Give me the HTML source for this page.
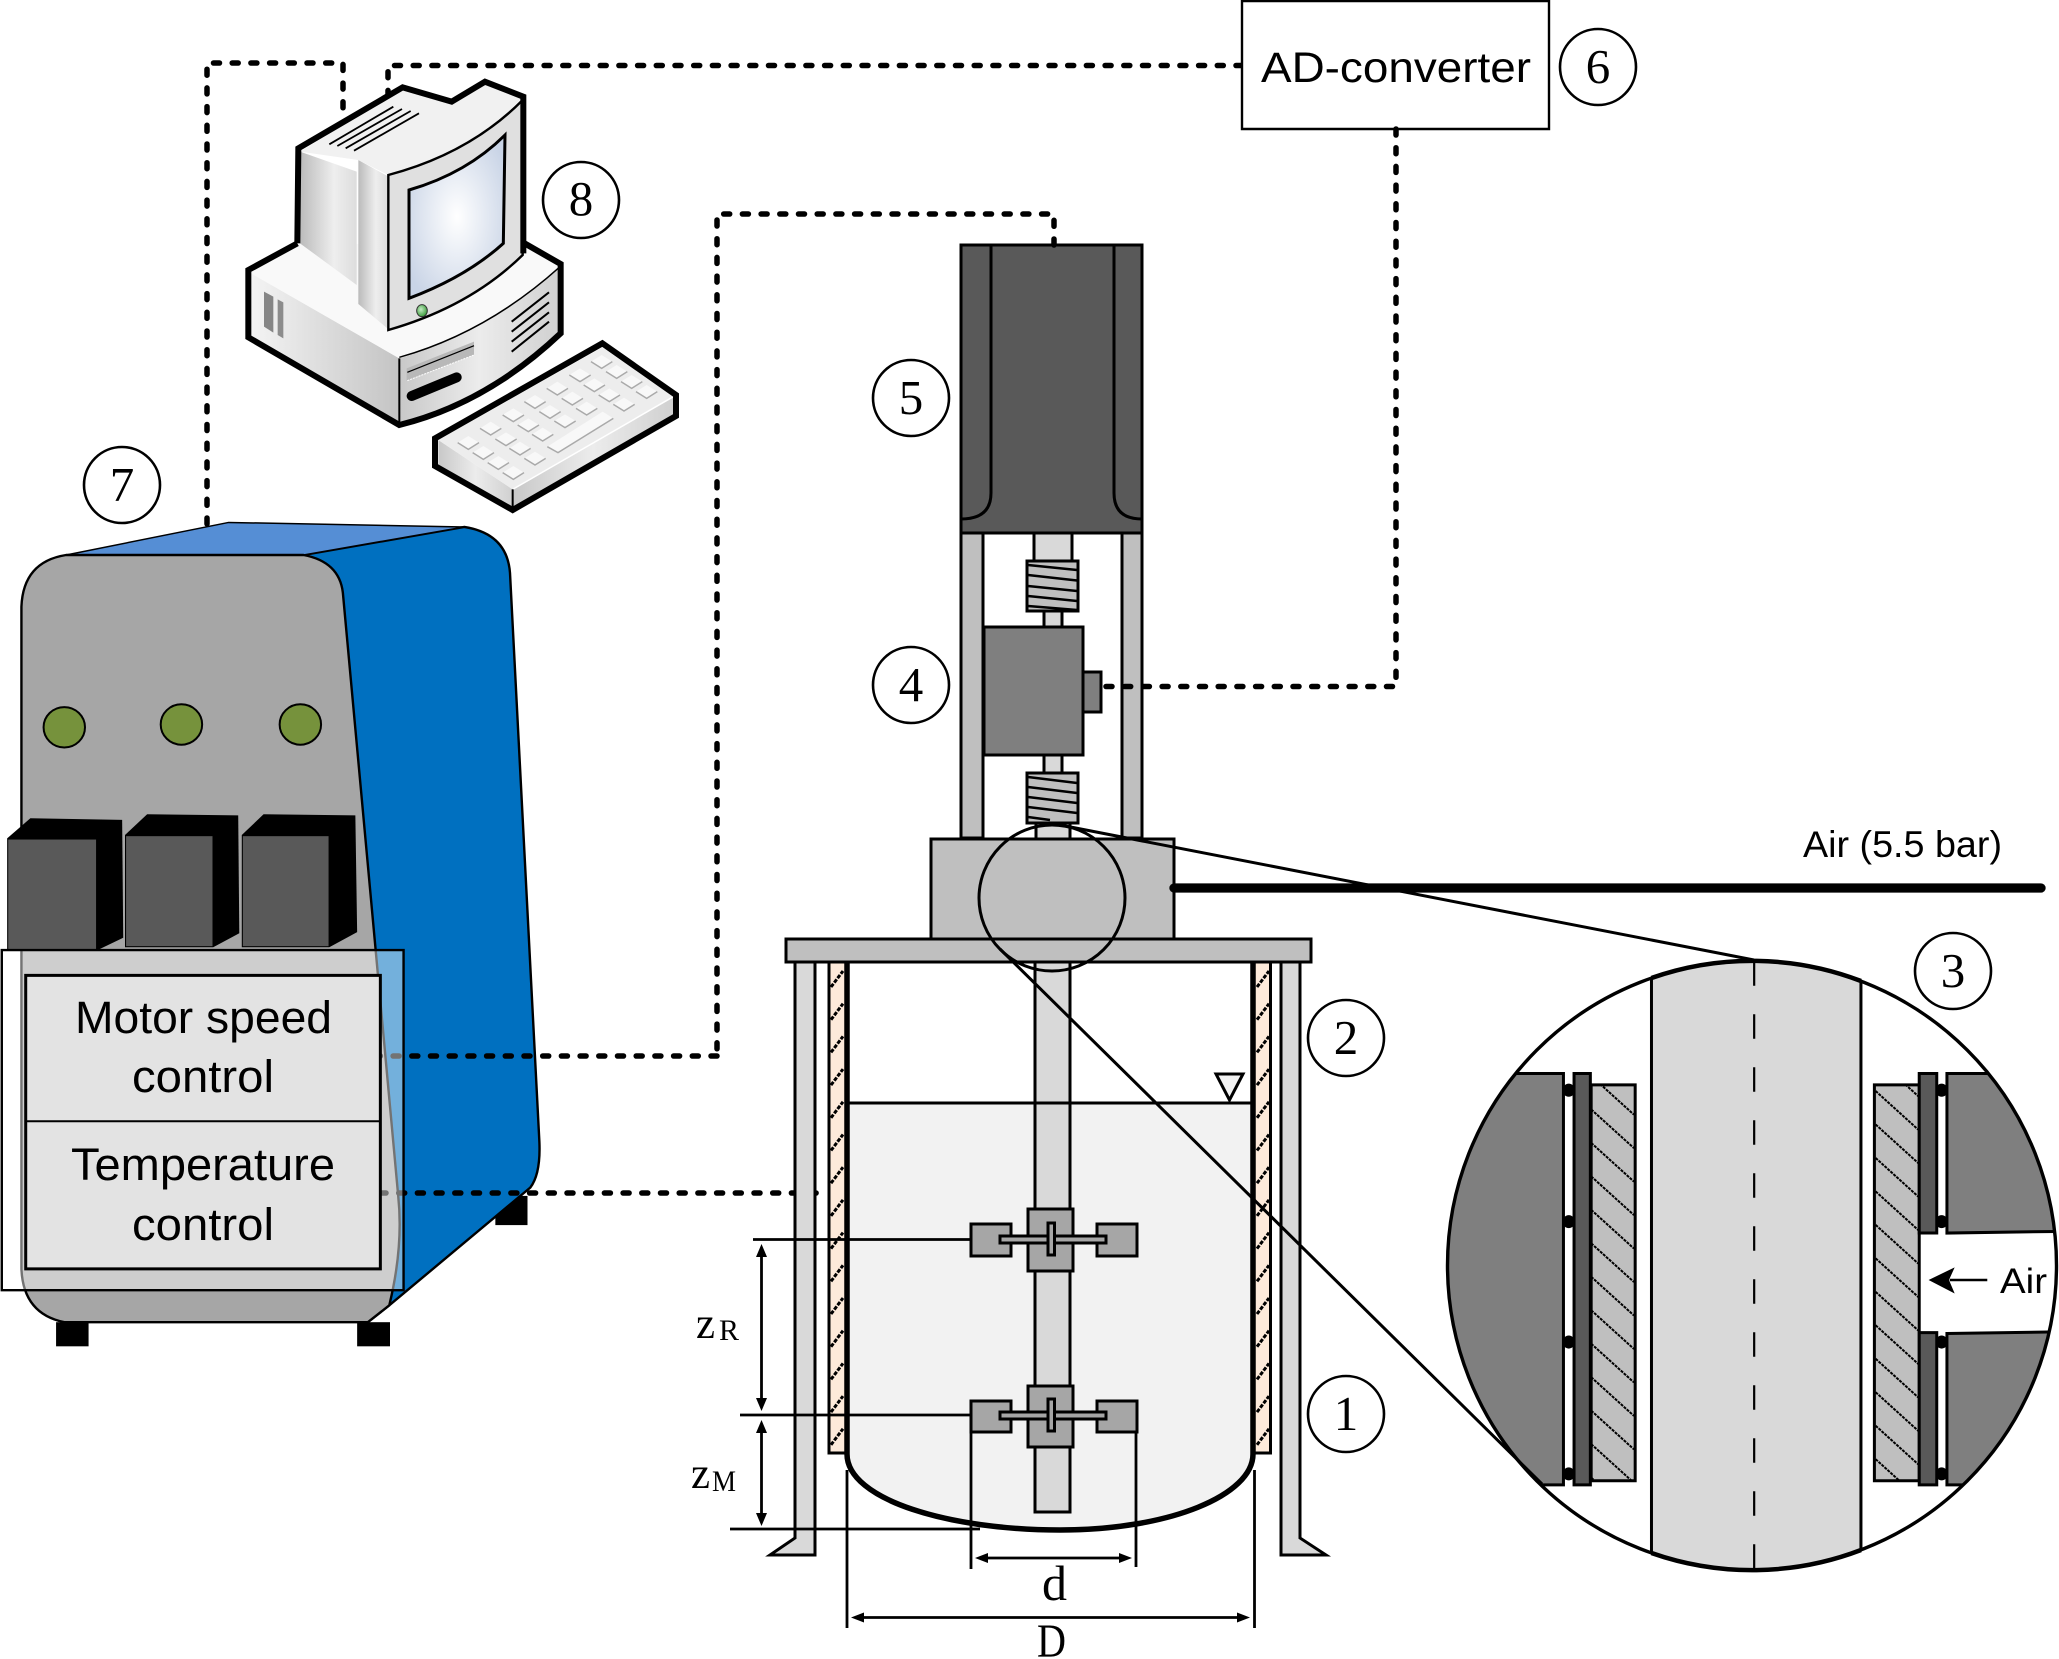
<!DOCTYPE html>
<html lang="en">
<head>
<meta charset="utf-8">
<title>Stirred tank setup</title>
<style>
html,body{margin:0;padding:0;background:#fff;width:2059px;height:1659px;overflow:hidden}
svg{display:block}
svg *{vector-effect:non-scaling-stroke}
.n{font-family:"Liberation Serif",serif;font-size:49px;text-anchor:middle;fill:#000}
.s{font-family:"Liberation Sans",sans-serif;fill:#000}
.m{font-family:"Liberation Serif",serif;fill:#000}
.dot{fill:none;stroke:#000;stroke-width:5.5;stroke-dasharray:6 12.7;stroke-linecap:round;stroke-linejoin:round}
.c{fill:#fff;stroke:#000;stroke-width:2.6}
.k{stroke:#000;stroke-width:3}
</style>
</head>
<body>
<svg xmlns="http://www.w3.org/2000/svg" width="2059" height="1659" viewBox="0 0 2059 1659">
<defs>
  <linearGradient id="gL" x1="0" y1="0" x2="1" y2="0"><stop offset="0" stop-color="#f4f4f4"/><stop offset="1" stop-color="#c4c4c4"/></linearGradient>
  <linearGradient id="gF" x1="0" y1="0" x2="1" y2="0"><stop offset="0" stop-color="#c8c8c8"/><stop offset=".5" stop-color="#ececec"/><stop offset="1" stop-color="#d0d0d0"/></linearGradient>
  <linearGradient id="gS" x1="0" y1="0" x2="1" y2="0"><stop offset="0" stop-color="#bbb"/><stop offset=".6" stop-color="#eee"/><stop offset="1" stop-color="#ddd"/></linearGradient>
  <linearGradient id="gB" x1="0" y1="0" x2="1" y2="1"><stop offset="0" stop-color="#e8e8e8"/><stop offset="1" stop-color="#cfcfcf"/></linearGradient>
  <radialGradient id="gSc" cx=".5" cy=".5" r=".6"><stop offset="0" stop-color="#fff"/><stop offset="1" stop-color="#c9d4e6"/></radialGradient>
  <radialGradient id="gLed" cx=".4" cy=".4" r=".6"><stop offset="0" stop-color="#c3eac3"/><stop offset="1" stop-color="#3f9f3f"/></radialGradient>
  <polygon id="key" points="-32,0 0,-20 32,0 0,20" fill="#f8f8f8"/>
  <clipPath id="cBig"><circle cx="815" cy="798" r="746"/></clipPath>
  <clipPath id="cHL"><rect x="420" y="355" width="108" height="970"/></clipPath>
  <clipPath id="cHR"><rect x="1115" y="355" width="110" height="970"/></clipPath>
</defs>

<!-- Machine -->
<g transform="translate(0,500) scale(.35714,.56122)">
  <rect x="1387" y="1240" width="90" height="52" fill="#000"/>
  <rect x="157" y="1465" width="91" height="43" fill="#000"/>
  <rect x="1000" y="1465" width="92" height="43" fill="#000"/>
  <path d="M850,98 L1300,48 Q1420,60 1428,130 L1510,1140 Q1515,1200 1485,1225 L1090,1435 L1030,1465 Z" fill="#0070c0" stroke="#000" stroke-width="2.4"/>
  <polygon points="185,98 640,40 1300,48 850,98" fill="#558ed5" stroke="#000" stroke-width="1.5"/>
  <path d="M185,98 L850,98 Q950,110 960,165 L1115,1240 Q1130,1330 1090,1435 L1030,1465 L180,1465 Q65,1450 60,1370 L60,190 Q65,110 185,98 Z" fill="#a6a6a6" stroke="#000" stroke-width="2.4"/>
  <ellipse cx="180" cy="405" rx="58" ry="36" fill="#76923c" stroke="#000" stroke-width="2"/>
  <ellipse cx="508" cy="400" rx="58" ry="36" fill="#76923c" stroke="#000" stroke-width="2"/>
  <ellipse cx="841" cy="400" rx="58" ry="36" fill="#76923c" stroke="#000" stroke-width="2"/>
  <polygon points="20,603 85,567 342,570 345,780 270,803 20,803" fill="#000"/>
  <rect x="23" y="605" width="246" height="196" fill="#595959"/>
  <polygon points="350,597 412,560 667,562 670,772 597,797 350,797" fill="#000"/>
  <rect x="353" y="599" width="242" height="196" fill="#595959"/>
  <polygon points="677,597 738,560 995,562 1000,770 922,797 677,797" fill="#000"/>
  <rect x="680" y="599" width="240" height="196" fill="#595959"/>
</g>

<!-- Dotted connectors under the machine overlay and computer -->
<path class="dot" d="M207,524 V63 H343 V118"/>
<path class="dot" d="M1242,65.500 H388 V95"/>
<path class="dot" d="M717,1056 H380"/>
<path class="dot" d="M380,1193 H822"/>

<!-- Translucent overlay + control panel -->
<g transform="translate(0,500) scale(.35714,.56122)">
  <rect x="5" y="802" width="1125" height="606" fill="#fff" fill-opacity=".45" stroke="#000" stroke-width="2.4"/>
  <rect x="72" y="847" width="993" height="523" fill="#e3e3e3" stroke="#000" stroke-width="3"/>
  <line x1="72" y1="1107" x2="1065" y2="1107" stroke="#000" stroke-width="2"/>
</g>
<text class="s" x="75" y="1033" font-size="45" textLength="257" lengthAdjust="spacingAndGlyphs">Motor speed</text>
<text class="s" x="132" y="1092" font-size="45" textLength="142" lengthAdjust="spacingAndGlyphs">control</text>
<text class="s" x="71" y="1180" font-size="45" textLength="264" lengthAdjust="spacingAndGlyphs">Temperature</text>
<text class="s" x="132" y="1240" font-size="45" textLength="142" lengthAdjust="spacingAndGlyphs">control</text>

<!-- Computer -->
<g transform="translate(220,50) scale(.33333)" stroke-linejoin="miter">
  <polygon points="85,660 235,575 910,580 1022,642 1022,850 800,1040 538,1125 85,862" fill="#fff"/>
  <polygon points="90,668 538,925 538,1122 90,860" fill="url(#gL)"/>
  <path d="M538,925 Q800,850 1018,655 L1018,850 Q800,1060 538,1122 Z" fill="url(#gF)"/>
  <path d="M90,668 L238,582 L905,582 L1018,650 Q800,850 538,925 Z" fill="#f9f9f9"/>
  <polyline points="538,925 538,1125" stroke="#000" stroke-width="2" fill="none"/>
  <path d="M538,922 Q800,848 1018,652" stroke="#000" stroke-width="1.500" fill="none"/>
  <path d="M232,580 L85,660 L85,862 L538,1125 Q800,1060 1022,850 L1022,642 L910,578" fill="none" stroke="#000" stroke-width="6"/>
  <!-- monitor -->
  <polygon points="240,305 410,365 410,705 240,580" fill="url(#gS)"/>
  <polygon points="415,330 502,378 502,835 415,762" fill="url(#gS)"/>
  <path d="M240,305 L548,118 L695,160 L795,100 L905,145 Q750,310 505,375 L415,330 Z" fill="#f1f1f1"/>
  <path d="M505,375 Q750,310 908,150 L908,615 Q750,770 505,840 Z" fill="#e0e0e0" stroke="#000" stroke-width="2.4"/>
  <path d="M567,420 Q740,370 855,255 L850,580 Q740,680 567,745 Z" fill="url(#gSc)" stroke="#000" stroke-width="3"/>
  <ellipse cx="606" cy="782" rx="16" ry="18" fill="url(#gLed)" stroke="#333" stroke-width="1"/>
  <path d="M232,580 L235,295 L548,112 L695,155 L795,95 L910,140 L910,610" fill="none" stroke="#000" stroke-width="6"/>
  <path d="M328,283L520,170M352,288L546,177M377,295L572,183M402,302L597,190" stroke="#000" stroke-width="1.800" fill="none"/>
  <polygon points="132,725 160,740 160,848 132,830" fill="#858585"/>
  <polygon points="173,748 190,757 190,865 173,855" fill="#8c8c8c"/>
  <path d="M875,815L987,727M875,845L987,757M875,875L987,787M875,905L987,815" stroke="#000" stroke-width="2" fill="none"/>
  <polygon points="560,955 762,875 762,915 560,992" fill="#b8b8b8"/>
  <line x1="562" y1="967" x2="762" y2="887" stroke="#000" stroke-width="1.200"/>
  <line x1="562" y1="992" x2="762" y2="915" stroke="#fff" stroke-width="1" stroke-dasharray="2 1"/>
  <line x1="575" y1="1038" x2="710" y2="982" stroke="#000" stroke-width="10" stroke-linecap="round"/>
  <!-- keyboard -->
  <polygon points="655,1170 878,1318 878,1375 655,1245" fill="url(#gF)"/>
  <polygon points="878,1318 1360,1040 1360,1095 878,1372" fill="url(#gF)"/>
  <polygon points="655,1170 1147,892 1360,1040 878,1318" fill="#ededed"/>
  <line x1="878" y1="1318" x2="878" y2="1378" stroke="#000" stroke-width="2"/>
  <line x1="880" y1="1317" x2="1360" y2="1040" stroke="#fff" stroke-width="1.500"/>
  <polygon points="645,1165 1147,880 1368,1035 1368,1098 878,1380 645,1248" fill="none" stroke="#000" stroke-width="6"/>
  <g>
    <use href="#key" x="745" y="1178"/><use href="#key" x="812" y="1135"/><use href="#key" x="880" y="1095"/><use href="#key" x="945" y="1055"/><use href="#key" x="1012" y="1015"/><use href="#key" x="1080" y="975"/><use href="#key" x="1145" y="935"/>
    <use href="#key" x="790" y="1208"/><use href="#key" x="858" y="1167"/><use href="#key" x="925" y="1125"/><use href="#key" x="990" y="1085"/><use href="#key" x="1057" y="1045"/><use href="#key" x="1123" y="1005"/><use href="#key" x="1190" y="965"/>
    <use href="#key" x="835" y="1238"/><use href="#key" x="900" y="1195"/><use href="#key" x="968" y="1153"/><use href="#key" x="1035" y="1113"/><use href="#key" x="1100" y="1075"/><use href="#key" x="1168" y="1035"/><use href="#key" x="1235" y="995"/>
    <use href="#key" x="880" y="1268"/><use href="#key" x="945" y="1225"/><use href="#key" x="1212" y="1063"/><use href="#key" x="1280" y="1025"/>
    <polygon points="982,1190 1148,1085 1180,1105 1014,1208" fill="#f8f8f8"/>
  </g>
  <path d="M713,1178l32,20l32,-20M758,1208l32,20l32,-20M803,1238l32,20l32,-20M848,1268l32,20l32,-20M913,1225l32,20l32,-20M780,1135l32,20l32,-20M826,1167l32,20l32,-20M868,1195l32,20l32,-20M848,1095l32,20l32,-20M893,1125l32,20l32,-20M936,1153l32,20l32,-20M913,1055l32,20l32,-20M958,1085l32,20l32,-20M1003,1113l32,20l32,-20M980,1015l32,20l32,-20M1025,1045l32,20l32,-20M1068,1075l32,20l32,-20M1048,975l32,20l32,-20M1091,1005l32,20l32,-20M1136,1035l32,20l32,-20M1180,1063l32,20l32,-20M1113,935l32,20l32,-20M1158,965l32,20l32,-20M1203,995l32,20l32,-20M1248,1025l32,20l32,-20M982,1190l32,18l166,-103" fill="none" stroke="#aaa" stroke-width="1.500"/>
</g>

<!-- AD converter -->
<rect x="1242" y="1" width="307" height="128" fill="#fff" stroke="#000" stroke-width="2.400"/>
<text class="s" x="1261" y="82" font-size="43" textLength="270" lengthAdjust="spacingAndGlyphs">AD-converter</text>

<!-- Motor -->
<rect x="961" y="245" width="181" height="288" fill="#595959" class="k"/>
<path d="M991,245 V493 Q991,519 961,519 M1114,245 V493 Q1114,519 1142,519" fill="none" class="k"/>

<!-- Frame and drive train -->
<rect x="961" y="533" width="22" height="305" fill="#bfbfbf" class="k"/>
<rect x="1122" y="533" width="20" height="305" fill="#bfbfbf" class="k"/>
<rect x="1034" y="533" width="38" height="28" fill="#d9d9d9" class="k"/>
<rect x="1027" y="561" width="51" height="50" fill="#bfbfbf" class="k"/>
<path d="M1028,565 L1077,570 M1028,575 L1077,580.500 M1028,586 L1077,591 M1028,596 L1077,601 M1028,606 L1077,610" stroke="#000" stroke-width="2.500" fill="none"/>
<rect x="1044" y="611" width="18" height="16" fill="#d9d9d9" class="k"/>
<rect x="1044" y="755" width="18" height="18" fill="#d9d9d9" class="k"/>
<rect x="984" y="627" width="99" height="128" fill="#7f7f7f" class="k"/>
<rect x="1083" y="672" width="18" height="40" fill="#7f7f7f" class="k"/>
<rect x="1027" y="773" width="51" height="50" fill="#bfbfbf" class="k"/>
<path d="M1028,777 L1077,783 M1028,787 L1077,793 M1028,797 L1077,803 M1028,807 L1077,813 M1028,817 L1050,820" stroke="#000" stroke-width="2.500" fill="none"/>
<rect x="1036" y="823" width="34" height="16" fill="#d9d9d9" class="k"/>
<rect x="931" y="839" width="243" height="100" fill="#bfbfbf" class="k"/>

<!-- Dotted connectors on top of the frame -->
<path class="dot" d="M1396,129 V686.500 H1098"/>
<path class="dot" d="M1054,245 V214 H717 V1056"/>

<!-- Stands -->
<path d="M795,962 V1538 L770,1555 H815 V962 Z" fill="#d9d9d9" class="k"/>
<path d="M1281,962 V1555 H1326 L1300,1538 V962 Z" fill="#d9d9d9" class="k"/>

<!-- Jacket -->
<rect x="829" y="962" width="18" height="491" fill="#fdeada" class="k"/>
<rect x="1254" y="962" width="16.500" height="491" fill="#fdeada" class="k"/>
<path d="M831,987 l12,-16 m-12,48.700 l12,-16 m-12,48.700 l12,-16 m-12,48.700 l12,-16 m-12,48.700 l12,-16 m-12,48.700 l12,-16 m-12,48.700 l12,-16 m-12,48.700 l12,-16 m-12,48.700 l12,-16 m-12,48.700 l12,-16 m-12,48.700 l12,-16 m-12,48.700 l12,-16 m-12,48.700 l12,-16 m-12,48.700 l12,-16 m-12,48.700 l12,-16" fill="none" stroke="#000" stroke-width="3" stroke-dasharray="4 1.500"/>
<path d="M1257,987 l12,-16 m-12,48.700 l12,-16 m-12,48.700 l12,-16 m-12,48.700 l12,-16 m-12,48.700 l12,-16 m-12,48.700 l12,-16 m-12,48.700 l12,-16 m-12,48.700 l12,-16 m-12,48.700 l12,-16 m-12,48.700 l12,-16 m-12,48.700 l12,-16 m-12,48.700 l12,-16 m-12,48.700 l12,-16 m-12,48.700 l12,-16 m-12,48.700 l12,-16" fill="none" stroke="#000" stroke-width="3" stroke-dasharray="4 1.500"/>

<!-- Tank -->
<path d="M847,1103 H1253 V1454 C1253,1495 1170,1530 1060,1530 C950,1530 847,1500 847,1454 Z" fill="#f2f2f2"/>
<rect x="1035" y="962" width="35" height="550" fill="#d9d9d9" class="k"/>
<line x1="847" y1="1103" x2="1253" y2="1103" class="k"/>
<path d="M847,962 V1454 C847,1500 950,1530 1060,1530 C1170,1530 1253,1495 1253,1454 V962" fill="none" stroke="#000" stroke-width="5.500"/>
<polygon points="1216,1074 1243,1074 1229.500,1100" fill="#f2f2f2" class="k"/>

<!-- Plate -->
<rect x="786" y="939" width="525" height="23" fill="#bfbfbf" class="k"/>

<!-- Dimension lines -->
<path d="M753,1239.500 H1002 M740,1415 H1002 M730,1529 H980" stroke="#000" stroke-width="2.800" fill="none"/>

<!-- Impellers -->
<g fill="#a6a6a6" stroke="#000" stroke-width="3">
  <rect x="1028" y="1209" width="45" height="62"/>
  <rect x="971" y="1224" width="40" height="32"/>
  <rect x="1097" y="1224" width="40" height="32"/>
  <rect x="1000" y="1236" width="106" height="7"/>
  <rect x="1048" y="1223" width="6.500" height="32"/>
  <rect x="1028" y="1386" width="45" height="61"/>
  <rect x="971" y="1401" width="40" height="31"/>
  <rect x="1097" y="1401" width="40" height="31"/>
  <rect x="1000" y="1412" width="106" height="7"/>
  <rect x="1048" y="1399" width="6.500" height="32"/>
</g>

<path d="M761.500,1250 V1405 M761.500,1426 V1520 M971,1432 V1569 M1136,1432 V1567 M847,1470 V1628 M1254.500,1470 V1628 M981,1558 H1126 M857,1617.500 H1244" stroke="#000" stroke-width="2.800" fill="none"/>
<g fill="#000">
  <polygon points="761.500,1244 767,1257 756,1257"/>
  <polygon points="761.500,1411 767,1398 756,1398"/>
  <polygon points="761.500,1420 767,1433 756,1433"/>
  <polygon points="761.500,1526 767,1513 756,1513"/>
  <polygon points="975,1558 988,1553 988,1563"/>
  <polygon points="1132,1558 1119,1553 1119,1563"/>
  <polygon points="851,1617.500 864,1612.500 864,1622.500"/>
  <polygon points="1250,1617.500 1237,1612.500 1237,1622.500"/>
</g>
<text class="m" x="696" y="1338" font-size="44" textLength="19" lengthAdjust="spacingAndGlyphs">z</text>
<text class="m" x="719" y="1340" font-size="30" textLength="20" lengthAdjust="spacingAndGlyphs">R</text>
<text class="m" x="691" y="1488" font-size="44" textLength="19" lengthAdjust="spacingAndGlyphs">z</text>
<text class="m" x="712" y="1491" font-size="30" textLength="24" lengthAdjust="spacingAndGlyphs">M</text>
<text class="m" x="1042" y="1600" font-size="50" textLength="25" lengthAdjust="spacingAndGlyphs">d</text>
<text class="m" x="1037" y="1657" font-size="48" textLength="29" lengthAdjust="spacingAndGlyphs">D</text>

<!-- Air line -->
<line x1="1174" y1="888" x2="2041" y2="888" stroke="#000" stroke-width="9.300" stroke-linecap="round"/>
<text class="s" x="1803" y="857" font-size="37" textLength="199" lengthAdjust="spacingAndGlyphs">Air (5.5 bar)</text>

<!-- Detail magnifier -->
<circle cx="1052" cy="898" r="73" fill="none" class="k"/>
<circle cx="1752" cy="1265.500" r="304.500" fill="#fff"/>
<g transform="translate(1420,940) scale(.40753,.40816)">
  <g clip-path="url(#cBig)">
    <rect x="568" y="0" width="514" height="1600" fill="#d9d9d9" class="k"/>
    <line x1="820" y1="52" x2="820" y2="1550" stroke="#000" stroke-width="2.200" stroke-dasharray="24.500 28.500"/>
    <rect x="-100" y="327" width="452" height="1008" fill="#7f7f7f" class="k"/>
    <rect x="420" y="355" width="108" height="970" fill="#bfbfbf" class="k"/>
    <g clip-path="url(#cHL)"><path d="M420,333 l105,95 m-105,-13 l105,95 m-105,-13 l105,95 m-105,-13 l105,95 m-105,-13 l105,95 m-105,-13 l105,95 m-105,-13 l105,95 m-105,-13 l105,95 m-105,-13 l105,95 m-105,-13 l105,95 m-105,-13 l105,95 m-105,-13 l105,95 m-105,-13 l105,95" fill="none" stroke="#000" stroke-width="2" stroke-dasharray="3 1"/></g>
    <rect x="378" y="327" width="40" height="1008" fill="#595959" class="k"/>
    <rect x="1115" y="355" width="110" height="970" fill="#bfbfbf" class="k"/>
    <g clip-path="url(#cHR)"><path d="M1118,288 l105,95 m-105,-13 l105,95 m-105,-13 l105,95 m-105,-13 l105,95 m-105,-13 l105,95 m-105,-13 l105,95 m-105,-13 l105,95 m-105,-13 l105,95 m-105,-13 l105,95 m-105,-13 l105,95 m-105,-13 l105,95 m-105,-13 l105,95 m-105,-13 l105,95" fill="none" stroke="#000" stroke-width="2" stroke-dasharray="3 1"/></g>
    <rect x="1225" y="327" width="43" height="391" fill="#595959" class="k"/>
    <rect x="1225" y="962" width="43" height="373" fill="#595959" class="k"/>
    <path d="M1293,327 H1700 V712 L1293,718 Z" fill="#7f7f7f" class="k"/>
    <path d="M1293,964 L1700,958 V1335 H1293 Z" fill="#7f7f7f" class="k"/>
    <g fill="#000">
      <ellipse cx="365" cy="368" rx="15" ry="16"/><ellipse cx="365" cy="690" rx="15" ry="16"/><ellipse cx="365" cy="985" rx="15" ry="16"/><ellipse cx="365" cy="1308" rx="15" ry="16"/>
      <ellipse cx="1280" cy="368" rx="15" ry="16"/><ellipse cx="1280" cy="690" rx="15" ry="16"/><ellipse cx="1280" cy="985" rx="15" ry="16"/><ellipse cx="1280" cy="1308" rx="15" ry="16"/>
    </g>
    <line x1="1300" y1="833" x2="1392" y2="833" stroke="#000" stroke-width="2.500"/>
    <polygon points="1248,833 1312,802 1298,833 1312,866" fill="#000"/>
  </g>
</g>
<circle cx="1752" cy="1265.500" r="304.500" fill="none" stroke="#000" stroke-width="3.400"/>
<path d="M1651.500,978 A304.500,304.500 0 0 1 1861,981 M1651.500,1553 A304.500,304.500 0 0 0 1861,1550" fill="none" stroke="#000" stroke-width="4.500"/>
<text class="s" x="2000" y="1293" font-size="35" textLength="47" lengthAdjust="spacingAndGlyphs">Air</text>

<!-- Tangent lines -->
<line x1="1050" y1="823" x2="1754" y2="960" class="k"/>
<line x1="1000" y1="949" x2="1542" y2="1484" class="k"/>

<!-- Numbered callouts -->
<circle class="c" cx="1598" cy="67" r="38"/><text class="n" x="1598" y="83">6</text>
<circle class="c" cx="581" cy="200" r="38"/><text class="n" x="581" y="215">8</text>
<circle class="c" cx="911" cy="398" r="38"/><text class="n" x="911" y="414">5</text>
<circle class="c" cx="911" cy="685" r="38"/><text class="n" x="911" y="701">4</text>
<circle class="c" cx="122" cy="485" r="38"/><text class="n" x="122" y="501">7</text>
<circle class="c" cx="1953" cy="971" r="38"/><text class="n" x="1953" y="987">3</text>
<circle class="c" cx="1346" cy="1038" r="38"/><text class="n" x="1346" y="1054">2</text>
<circle class="c" cx="1346" cy="1414" r="38"/><text class="n" x="1346" y="1430">1</text>
</svg>
</body>
</html>
